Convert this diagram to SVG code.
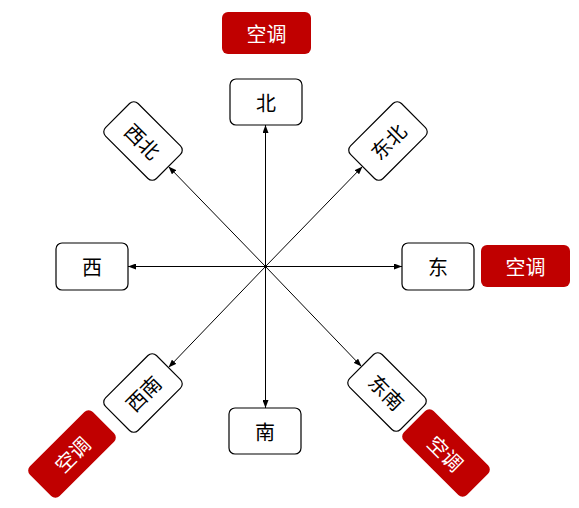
<svg xmlns="http://www.w3.org/2000/svg" width="579" height="508" viewBox="0 0 579 508">
<style>
.node rect{fill:#fff;stroke:#000;stroke-width:1.2}
.ac rect{fill:#c00000;stroke:none}
text{font-family:"Noto Sans CJK SC","Noto Sans",sans-serif;font-size:20px;text-anchor:middle;dominant-baseline:central}
.node text{fill:#000}
.ac text{fill:#fff}
.conn line{stroke:#000;stroke-width:1;marker-end:url(#arr)}
</style>
<defs>
<marker id="arr" viewBox="0 0 8 6" refX="8" refY="3" markerWidth="8" markerHeight="6" markerUnits="userSpaceOnUse" orient="auto">
<path d="M0,0 L8,3 L0,6 z" fill="#000"/>
</marker>
</defs>
<g class="conn">
<line x1="265.5" y1="266.5" x2="265.5" y2="125"/>
<line x1="265.5" y1="266.5" x2="265.5" y2="408"/>
<line x1="265.5" y1="266.5" x2="128" y2="266.5"/>
<line x1="265.5" y1="266.5" x2="402" y2="266.5"/>
<line x1="265.5" y1="266.5" x2="168.5" y2="166.5"/>
<line x1="265.5" y1="266.5" x2="362.5" y2="166.5"/>
<line x1="265.5" y1="266.5" x2="168.5" y2="367.5"/>
<line x1="265.5" y1="266.5" x2="361.5" y2="366.5"/>
</g>
<g id="ac-n" class="ac"><rect x="222" y="12" width="89" height="42" rx="6"/><text x="266.5" y="33">空调</text></g>
<g id="ac-e" class="ac"><rect x="481" y="245" width="89" height="42" rx="6"/><text x="525.5" y="266">空调</text></g>
<g id="ac-sw" class="ac" transform="translate(72,454) rotate(-45)"><rect x="-44.5" y="-21" width="89" height="42" rx="6"/><text x="0" y="0">空调</text></g>
<g id="ac-se" class="ac" transform="translate(446,453) rotate(45)"><rect x="-44.5" y="-21" width="89" height="42" rx="6"/><text x="0" y="0">空调</text></g>
<g id="n-bei" class="node"><rect x="230" y="79" width="72" height="46" rx="6"/><text x="266" y="102">北</text></g>
<g id="n-nan" class="node"><rect x="229" y="408" width="72" height="46" rx="6"/><text x="265" y="431">南</text></g>
<g id="n-xi" class="node"><rect x="56" y="243" width="72" height="47" rx="6"/><text x="92" y="266.5">西</text></g>
<g id="n-dong" class="node"><rect x="402" y="243" width="72" height="47" rx="6"/><text x="438" y="266.5">东</text></g>
<g id="n-xibei" class="node" transform="translate(143,141) rotate(45)"><rect x="-36" y="-23" width="72" height="46" rx="6"/><text x="0" y="0">西北</text></g>
<g id="n-dongbei" class="node" transform="translate(388,141) rotate(-45)"><rect x="-36" y="-23" width="72" height="46" rx="6"/><text x="0" y="0">东北</text></g>
<g id="n-xinan" class="node" transform="translate(143,393) rotate(-45)"><rect x="-36" y="-23" width="72" height="46" rx="6"/><text x="0" y="0">西南</text></g>
<g id="n-dongnan" class="node" transform="translate(387,392) rotate(45)"><rect x="-36" y="-23" width="72" height="46" rx="6"/><text x="0" y="0">东南</text></g>
</svg>
